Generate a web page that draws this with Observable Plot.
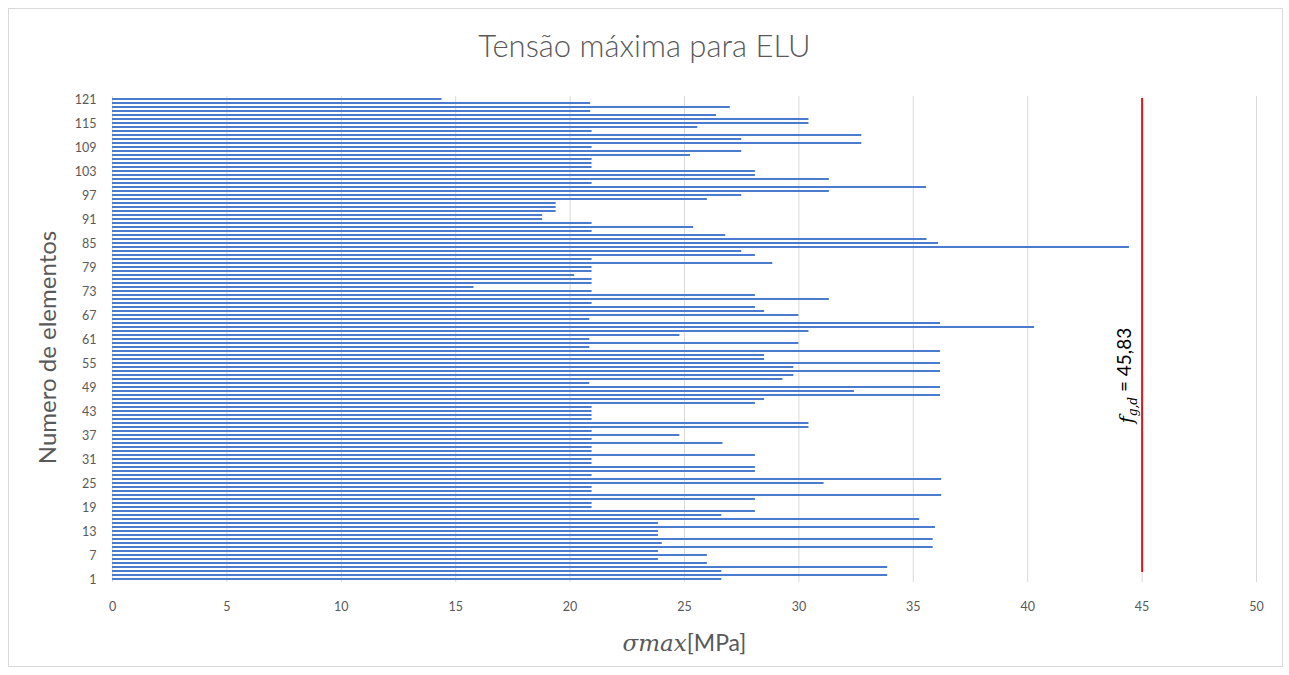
<!DOCTYPE html>
<html>
<head>
<meta charset="utf-8">
<script src="https://cdn.jsdelivr.net/npm/d3@7"></script>
<script src="https://cdn.jsdelivr.net/npm/@observablehq/plot@0.6"></script>
<style>
  html, body { margin: 0; padding: 0; background: #fff; }
  body { width: 1289px; height: 675px; position: relative; overflow: hidden; font-family: Lato, "Open Sans", sans-serif; }
  #frame { position: absolute; left: 8px; top: 8px; width: 1275px; height: 659px; border: 1px solid #d9d9d9; box-sizing: border-box; }
  #title { position: absolute; left: 0; top: 27px; width: 1289px; text-align: center; font-size: 31px; font-weight: 300; line-height: 36px; color: #595959; }
  #chart { position: absolute; left: 0; top: 70px; }
</style>
</head>
<body>
<div id="frame"></div>
<div id="title">Tensão máxima para ELU</div>
<div id="chart"></div>
<script>
// Maximum stress (MPa) for elements 1..121 (index 0 = element 1)
const tensoes = [
  26.63, 33.88, 26.63, 33.88, 26.0, 23.86, 26.0, 23.86, 35.87, 24.03,
  35.87, 23.86, 23.86, 35.97, 23.86, 35.28, 26.63, 28.1, 20.96, 20.96,
  28.1, 36.24, 20.96, 20.96, 31.1, 36.24, 20.96, 28.1, 28.1, 20.96,
  20.96, 28.1, 20.96, 20.96, 26.68, 20.96, 24.8, 20.96, 30.44, 30.44,
  20.96, 20.96, 20.96, 20.96, 28.1, 28.5, 36.19, 32.43, 36.19, 20.86,
  29.3, 29.78, 36.19, 29.78, 36.19, 28.5, 28.5, 36.19, 20.86, 30.0,
  20.86, 24.8, 30.44, 40.3, 36.19, 20.86, 30.0, 28.5, 28.1, 20.96,
  31.33, 28.1, 20.96, 15.8, 20.96, 20.96, 20.2, 20.96, 20.96, 28.86,
  20.96, 28.1, 27.5, 44.45, 36.1, 35.6, 26.8, 20.96, 25.4, 20.96,
  18.8, 18.8, 19.39, 19.39, 19.39, 26.0, 27.5, 31.33, 35.58, 20.96,
  31.33, 28.1, 28.1, 20.96, 20.96, 20.96, 25.26, 27.5, 20.96, 32.75,
  27.5, 32.75, 20.96, 25.58, 30.44, 30.44, 26.4, 20.9, 27.0, 20.9,
  14.4
];
const elementos = tensoes.map((_, i) => i + 1);
const yTicks = [1, 7, 13, 19, 25, 31, 37, 43, 49, 55, 61, 67, 73, 79, 85, 91, 97, 103, 109, 115, 121];
const xTicks = [0, 5, 10, 15, 20, 25, 30, 35, 40, 45, 50];
const fgd = 45;
const fgdLabel = "fgd = 45,83";
const yLabel = "Numero de elementos";
const xLabel = "σmax[MPa]";

const rows = elementos.map((n, i) => ({n, v: tensoes[i]}));
const grey = "#595959";

const chart = Plot.plot({
  width: 1289,
  height: 590,
  marginLeft: 112,
  marginRight: 33,
  marginTop: 26,
  marginBottom: 78,
  style: {fontFamily: "Lato, 'Open Sans', sans-serif", background: "transparent"},
  x: {domain: [0, 50]},
  y: {type: "band", domain: elementos.slice().reverse(), paddingInner: 0.42, paddingOuter: 0.21},
  marks: [
    Plot.ruleX(xTicks, {stroke: "#d9d9d9", strokeWidth: 1}),
    Plot.barX(rows, {x: "v", y: "n", fill: "#4b7bcf"}),
    Plot.ruleX([fgd], {stroke: "#e8141b", strokeWidth: 2, y1: () => 121, y2: () => 3}),
    Plot.axisX(xTicks, {tickSize: 0, tickPadding: 20, fontSize: 12.5, color: grey, label: null}),
    Plot.axisY(yTicks, {tickSize: 0, tickPadding: 16, fontSize: 12.5, color: grey, label: null}),
    Plot.text([yLabel], {text: d => d, frameAnchor: "left", textAnchor: "middle", lineAnchor: "middle", rotate: -90, dx: -64, dy: 8, fontSize: 24, fill: grey}),
    Plot.text([xLabel], {text: d => d, frameAnchor: "bottom", textAnchor: "middle", lineAnchor: "middle", dy: 61, fontSize: 23, fill: grey}),
    Plot.text([fgdLabel], {text: d => d, x: () => fgd, textAnchor: "middle", lineAnchor: "middle", rotate: -90, dx: -15, dy: 36, fontSize: 19, fill: "#000"})
  ]
});

// rich text for the labels (italic math parts, subscript)
d3.select(chart).selectAll("text").filter(function() { return this.textContent === fgdLabel; })
  .each(function() {
    const t = d3.select(this).text(null);
    t.append("tspan").attr("font-style", "italic").attr("font-family", "'DejaVu Serif', serif").text("f");
    t.append("tspan").attr("font-style", "italic").attr("font-family", "'DejaVu Serif', serif").attr("font-size", 12).attr("dy", "0.35em").text("g,d");
    t.append("tspan").attr("dy", "-0.35em").text(" = 45,83");
  });
d3.select(chart).selectAll("text").filter(function() { return this.textContent === xLabel; })
  .each(function() {
    const t = d3.select(this).text(null);
    t.append("tspan").attr("font-style", "italic").attr("font-family", "'DejaVu Serif', serif").text("σmax");
    t.append("tspan").text("[MPa]");
  });

document.getElementById("chart").appendChild(chart);
</script>
</body>
</html>
